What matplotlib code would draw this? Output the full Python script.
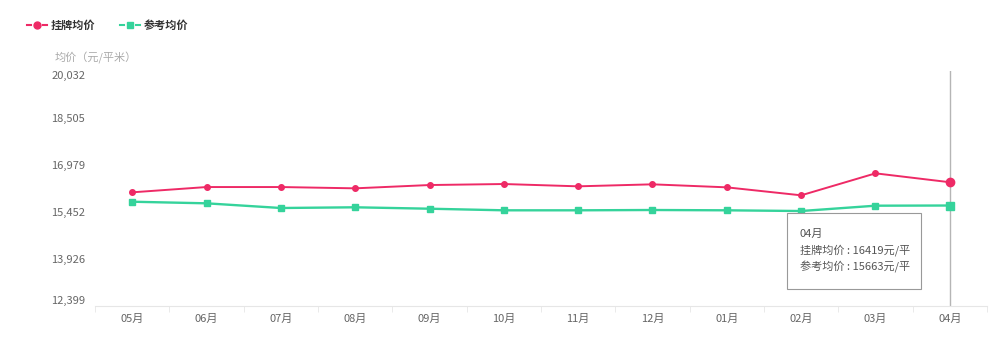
import numpy as np
import matplotlib.pyplot as plt
from matplotlib.lines import Line2D
from matplotlib.patches import Rectangle

plt.rcParams['font.family'] = ['Noto Sans CJK SC', 'DejaVu Sans']

# data
months = ['05月', '06月', '07月', '08月', '09月', '10月', '11月', '12月', '01月', '02月', '03月', '04月']
listing = [16091, 16263, 16263, 16221, 16328, 16361, 16286, 16351, 16253, 15994, 16708, 16419]
reference = [15786, 15734, 15582, 15605, 15559, 15507, 15507, 15517, 15507, 15484, 15657, 15663]
yticks = [12399, 13926, 15452, 16979, 18505, 20032]

red = '#ee2a66'
green = '#35d39b'
tick_col = '#666666'

fig = plt.figure(figsize=(10, 3.52), dpi=100)
W, H = 1000, 352
ax = fig.add_axes([95 / W, 1 - 306 / H, 892 / W, 235 / H])

x = np.arange(len(months))
ax.plot(x, listing, color=red, lw=1.4, marker='o', ms=4, zorder=3)
ax.plot(x, reference, color=green, lw=1.7, marker='s', ms=4, zorder=3)
# hovered point
ax.plot(x[-1], listing[-1], 'o', color=red, ms=6, zorder=4)
ax.plot(x[-1], reference[-1], 's', color=green, ms=6, zorder=4)
ax.axvline(x[-1], color='#b5b5b5', lw=1, zorder=2)

ax.set_xlim(-0.5, len(months) - 0.5)
ax.set_ylim(yticks[0], yticks[-1])

for s in ['top', 'right', 'left']:
    ax.spines[s].set_visible(False)
ax.spines['bottom'].set_color('#e6e6e6')

ax.set_xticks(x)
ax.set_xticklabels(months, fontsize=8, color=tick_col)
ax.tick_params(axis='x', length=0, pad=6)
ax.set_xticks(np.arange(-0.5, len(months)), minor=True)
ax.tick_params(axis='x', which='minor', length=4, color='#e6e6e6')

ax.set_yticks(yticks)
ax.set_yticklabels([f'{v:,}' for v in yticks], fontsize=8, color=tick_col)
ax.tick_params(axis='y', length=0, pad=7)
ylabs = ax.get_yticklabels()
ylabs[0].set_va('bottom')
ylabs[-1].set_va('top')

fig.text(55 / W, 1 - 58 / H, '均价（元/平米）', fontsize=8, color='#aaaaaa', va='center')

# legend: "-●-" style
def legend_item(x0, color, marker, label):
    y0 = 1 - 25 / H
    for a, b in [(x0, x0 + 4), (x0 + 16, x0 + 20)]:
        fig.add_artist(Line2D([a / W, b / W], [y0, y0], color=color, lw=1.5,
                              transform=fig.transFigure))
    fig.add_artist(Line2D([(x0 + 10) / W], [y0], color=color, marker=marker, ms=5,
                          transform=fig.transFigure))
    fig.text((x0 + 24) / W, y0, label, fontsize=8, color='#333333', va='center',
             fontweight='bold')

legend_item(27, red, 'o', '挂牌均价')
legend_item(120, green, 's', '参考均价')

# tooltip
fig.add_artist(Rectangle((787 / W, 1 - 289 / H), 134 / W, 76 / H, transform=fig.transFigure,
                         facecolor='white', edgecolor='#999999', lw=0.8, zorder=10))
tip = [months[-1], f'挂牌均价 : {listing[-1]}元/平', f'参考均价 : {reference[-1]}元/平']
for i, t in enumerate(tip):
    fig.text(800 / W, 1 - (234 + i * 16.5) / H, t, fontsize=8, color='#555555',
             va='center', zorder=11)

fig.savefig('out.png', dpi=100)
